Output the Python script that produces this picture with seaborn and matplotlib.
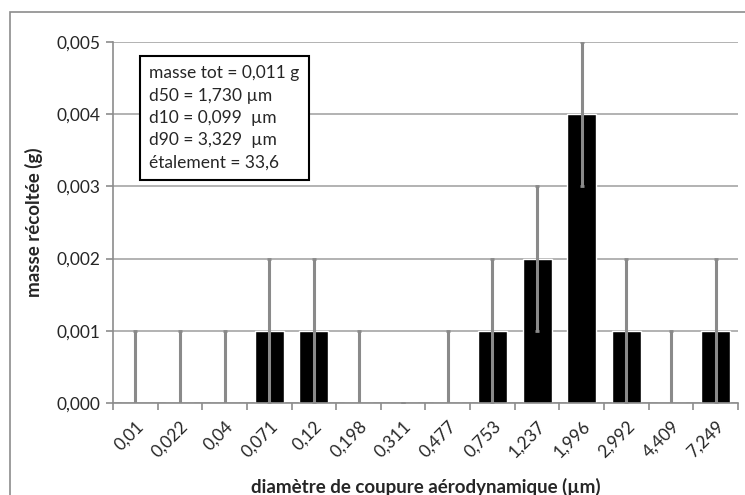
import numpy as np
import matplotlib
matplotlib.use("Agg")
import matplotlib.pyplot as plt
import seaborn as sns
from matplotlib.ticker import FixedLocator, FuncFormatter

# Données
diametres = ["0,01", "0,022", "0,04", "0,071", "0,12", "0,198", "0,311",
             "0,477", "0,753", "1,237", "1,996", "2,992", "4,409", "7,249"]
masses = [0, 0, 0, 0.001, 0.001, 0, 0, 0, 0.001, 0.002, 0.004, 0.001, 0, 0.001]
erreurs = [0.001, 0.001, 0.001, 0.001, 0.001, 0.001, 0, 0.001, 0.001, 0.001,
           0.001, 0.001, 0.001, 0.001]
texte_info = ["masse tot = 0,011 g", "d50 = 1,730 \u00b5m", "d10 = 0,099  \u00b5m",
              "d90 = 3,329  \u00b5m", "\u00e9talement = 33,6"]

sns.set_theme(style="white")
plt.rcParams['font.family'] = ['Lato', 'DejaVu Sans']

fig = plt.figure(figsize=(7.45, 4.95), dpi=100)
ax = fig.add_axes([113 / 745, 1 - 403 / 495, (738 - 113) / 745, (403 - 42) / 495])

# cadre extérieur gris
fig.patches.append(plt.Rectangle((10 / 745, -0.1), 1.2, 1 - 12 / 495 + 0.1,
                                 transform=fig.transFigure, fill=False,
                                 edgecolor='#8c8c8c', linewidth=1.2))

sns.barplot(x=diametres, y=masses, color='black', width=0.65, ax=ax,
            saturation=1, errorbar=None, zorder=2)
ax.errorbar(np.arange(len(diametres)), masses, yerr=erreurs, fmt='none',
            ecolor='#8a8a8a', elinewidth=2.2, capsize=1.5, capthick=2, zorder=3)

ax.set_ylim(0, 0.005)
ax.set_xlim(-0.5, len(diametres) - 0.5)
ax.set_yticks(np.arange(0, 0.0051, 0.001))
ax.yaxis.set_major_formatter(FuncFormatter(lambda v, p: f"{v:.3f}".replace(".", ",")))
ax.grid(axis='y', color='#a6a6a6', linewidth=1.2, zorder=0)
ax.set_axisbelow(True)

for s in ['top', 'right']:
    ax.spines[s].set_visible(False)
ax.spines['left'].set_color('#8c8c8c')
ax.spines['bottom'].set_color('#8c8c8c')
ax.spines['left'].set_linewidth(1.2)
ax.spines['bottom'].set_linewidth(1.2)

ax.set_xticks(range(len(diametres)))
ax.set_xticklabels(diametres, rotation=45, ha='right', rotation_mode='anchor',
                   fontsize=12.5)
ax.xaxis.set_minor_locator(FixedLocator(np.arange(-0.5, len(diametres), 1)))
ax.tick_params(axis='x', which='major', length=0, pad=11)
ax.tick_params(axis='x', which='minor', length=5, color='#8c8c8c', width=1.2,
               bottom=True)
ax.tick_params(axis='y', length=5, color='#8c8c8c', width=1.2, left=True,
               labelsize=12.5, pad=4)

ax.set_xlabel("diam\u00e8tre de coupure a\u00e9rodynamique (\u00b5m)", fontsize=13.5,
              fontweight='bold', labelpad=12)
ax.set_ylabel("masse r\u00e9colt\u00e9e (g)", fontsize=13.5, fontweight='bold',
              labelpad=10)

ax.text(0.058, 0.935, "\n".join(texte_info), transform=ax.transAxes, fontsize=12.5,
        va='top', ha='left', linespacing=1.48, zorder=5,
        bbox=dict(boxstyle='square,pad=0.55', facecolor='white',
                  edgecolor='black', linewidth=1.5))

fig.savefig("out.png", dpi=100)
